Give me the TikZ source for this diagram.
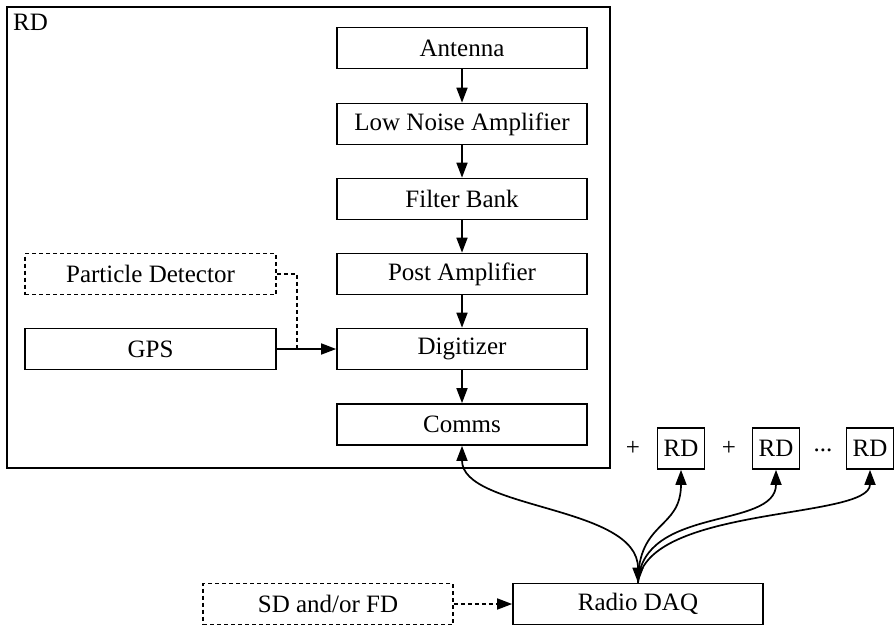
\documentclass[tikz,border=0pt]{standalone}
\usepackage{fontspec}
\setmainfont{Liberation Serif}
\usetikzlibrary{arrows.meta}
\begin{document}
\begin{tikzpicture}[x=1pt,y=-1pt,
  every node/.style={font=\fontsize{25}{30}\selectfont, inner sep=0pt},
  blk/.style={draw, line width=1.7pt, minimum width=250pt, minimum height=41pt},
  dblk/.style={blk, dash pattern=on 4pt off 3pt},
  rdbox/.style={draw, line width=1.7pt, minimum width=47pt, minimum height=41pt},
  conn/.style={line width=1.7pt, -{Triangle[length=15pt,width=11pt]}},
  dconn/.style={conn, dash pattern=on 4pt off 3pt},
  bconn/.style={line width=1.7pt, {Triangle[length=15pt,width=11pt]}-{Triangle[length=15pt,width=11pt]}}
]
\useasboundingbox (0,0) rectangle (894,626);
\node[draw, line width=1.7pt, minimum width=603pt, minimum height=461pt] (outer) at (308.5,237.5) {};
\node[anchor=north west] (rdlabel) at (13,13.5) {RD};
\node[blk] (ant) at (462,48) {Antenna};
\node[blk] (lna) at (462,124) {Low Noise Amplifier};
\node[blk] (fb) at (462,199) {Filter Bank};
\node[blk] (pa) at (462,274) {Post Amplifier};
\node[blk] (dig) at (462,349) {Digitizer};
\node[blk] (com) at (462,424.5) {Comms};
\node[dblk, minimum width=251pt] (pd) at (150.5,274) {Particle Detector};
\node[blk, minimum width=251pt] (gps) at (150.5,349) {GPS};
\node[rdbox] (rd1) at (681,448.5) {RD};
\node[rdbox] (rd2) at (776,448.5) {RD};
\node[rdbox] (rd3) at (870,448.5) {RD};
\node (p1) at (633,448) {+};
\node (p2) at (729,448) {+};
\node (dots) at (823,450) {...};
\node[blk] (daq) at (638,604) {Radio DAQ};
\node[dblk] (sdfd) at (328,604) {SD and/or FD};
\coordinate (jn) at (297,349);
\draw[conn] (ant) -- (lna);
\draw[conn] (lna) -- (fb);
\draw[conn] (fb) -- (pa);
\draw[conn] (pa) -- (dig);
\draw[conn] (dig) -- (com);
\draw[conn] (gps) -- (dig);
\draw[line width=1.7pt, dash pattern=on 4pt off 3pt] (pd.east) -| (jn);
\draw[dconn] (sdfd) -- (daq);
\draw[bconn] (com.south) .. controls (462,510) and (638,505) .. (daq.north);
\draw[conn] (daq.north) .. controls (638,520) and (681,530) .. (rd1.south);
\draw[conn] (daq.north) .. controls (642,505) and (776,530) .. (rd2.south);
\draw[conn] (daq.north) .. controls (646,505) and (870,520) .. (rd3.south);
\end{tikzpicture}
\end{document}
